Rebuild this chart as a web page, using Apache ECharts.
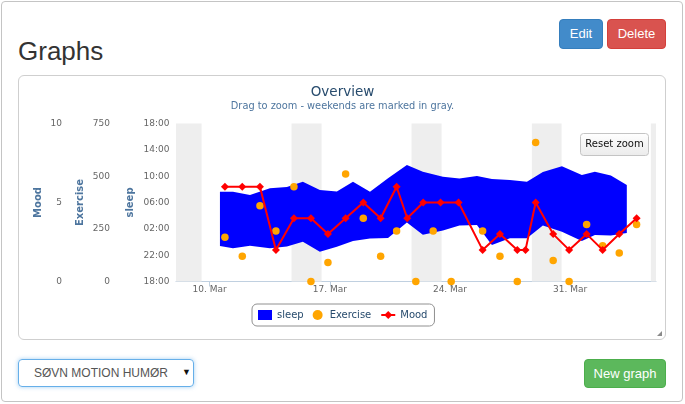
<!DOCTYPE html>
<html><head><meta charset="utf-8">
<script src="https://cdn.jsdelivr.net/npm/echarts@6/dist/echarts.min.js"></script>
<style>
html,body{margin:0;padding:0;background:#fff;width:685px;height:404px;overflow:hidden;font-family:"Liberation Sans",Arial,sans-serif;}
#panel{position:absolute;left:1px;top:1px;width:682px;height:401px;border:1px solid #c4c4c4;border-radius:4px;box-sizing:border-box;}
#head{position:absolute;left:18px;top:38px;margin:0;font-size:26px;line-height:26px;font-weight:normal;color:#333;}
.btn{position:absolute;color:#fff;font-size:13px;text-align:center;border-radius:4px;box-sizing:border-box;}
#edit{left:559px;top:19px;width:44px;height:30px;line-height:28px;background:#428bca;border:1px solid #357ebd;}
#del{left:607px;top:19px;width:59px;height:30px;line-height:28px;background:#d9534f;border:1px solid #d43f3a;}
#box{position:absolute;left:18px;top:75px;width:648px;height:265px;border:1px solid #cfcfcf;border-radius:6px;box-sizing:border-box;}
#grip{position:absolute;left:657px;top:331px;width:0;height:0;border-left:5px solid transparent;border-bottom:5px solid #8a8a8a;}
#sel{position:absolute;left:18px;top:359px;width:176px;height:28px;border:1px solid #66afe9;border-radius:4px;box-shadow:0 0 4px rgba(102,175,233,.6);box-sizing:border-box;font-size:12px;color:#555;}
#sel span{position:absolute;left:15px;top:6px;}
#sel i{position:absolute;left:163px;top:7px;font-style:normal;font-size:9px;color:#111;}
#new{left:584px;top:359px;width:82px;height:29px;line-height:27px;background:#5cb85c;border:1px solid #4cae4c;}
#chart{position:absolute;left:0;top:0;width:685px;height:404px;}
</style></head>
<body>
<div id="panel"></div>
<h2 id="head">Graphs</h2>
<div class="btn" id="edit">Edit</div>
<div class="btn" id="del">Delete</div>
<div id="box"></div>
<div id="grip"></div>
<div id="sel"><span>SØVN MOTION HUMØR</span><i>▼</i></div>
<div class="btn" id="new">New graph</div>
<div id="chart"></div>
<script>
// x values are days of March (10 = 10. Mar 00:00)
const xTickDays = [10, 17, 24, 31];
const xTickLabels = ['10. Mar', '17. Mar', '24. Mar', '31. Mar'];
const sleepTickLabels = ['18:00', '22:00', '02:00', '06:00', '10:00', '14:00', '18:00'];

const weekendStart = [7.75, 14.77, 21.76, 28.77, 35.7];
const weekendEnd = [9.53, 16.52, 23.51, 30.5, 37.5];

// sleep: hours after 18:00 (bedtime = start, wake = end)
const sleepDays = [10.60, 11.36, 12.35, 13.51, 14.50, 15.43, 16.42, 17.41, 18.35, 19.34, 20.39, 21.49, 22.42, 23.59, 24.55, 25.57, 26.44, 27.49, 28.48, 29.41, 30.52, 31.68, 32.44, 33.37, 34.30];
const sleepStart = [5.39, 5.04, 5.44, 5.04, 5.32, 6.05, 4.53, 5.29, 6.15, 6.53, 6.61, 8.96, 7.11, 7.75, 8.51, 8.58, 5.54, 6.56, 6.56, 8.51, 7.56, 6.15, 7.06, 6.99, 7.37];
const sleepEnd = [13.64, 13.64, 13.14, 14.16, 14.35, 15.16, 13.90, 13.67, 15.16, 13.64, 15.68, 17.70, 16.68, 15.92, 15.65, 16.03, 15.57, 15.42, 15.16, 16.63, 17.50, 16.18, 16.68, 16.10, 14.66];

const exerciseDays = [10.89, 11.90, 12.93, 13.86, 14.91, 15.90, 16.89, 17.92, 18.95, 19.96, 20.89, 22.01, 23.02, 24.07, 25.90, 26.91, 27.92, 28.99, 30.01, 30.94, 31.96, 32.89, 33.86, 34.87];
const exerciseValues = [210, 120, 360, 240, 450, 0, 90, 510, 300, 120, 240, 0, 240, 0, 240, 120, 0, 660, 100, 0, 270, 170, 135, 270];

const moodDays = [10.89, 11.90, 12.93, 13.86, 14.91, 15.90, 16.89, 17.92, 18.95, 19.96, 20.89, 21.51, 22.44, 23.45, 24.50, 25.90, 26.91, 27.92, 28.40, 28.99, 30.01, 30.94, 31.96, 32.89, 33.86, 34.87];
const moodValues = [6, 6, 6, 2, 4, 4, 3, 4, 5, 4, 6, 4, 5, 5, 5, 2, 3, 2, 2, 5, 3, 2, 3, 2, 3, 4];

const X_MIN = 8.04, X_MAX = 36;
const FONT = '"DejaVu Sans", Verdana, sans-serif';

const chart = echarts.init(document.getElementById('chart'), null, {renderer: 'canvas'});

function yAxisBase(name, offset, min, max, interval, nameGap, fmt) {
  return {
    type: 'value', position: 'left', offset: offset, min: min, max: max, interval: interval,
    name: name, nameLocation: 'middle', nameRotate: 90, nameGap: nameGap, nameMoveOverlap: false,
    nameTextStyle: {color: '#4d759e', fontWeight: 'bold', fontSize: 10, fontFamily: FONT},
    axisLine: {show: false}, axisTick: {show: false}, splitLine: {show: false},
    axisLabel: {margin: 6.5, color: '#666', fontSize: 9, fontFamily: FONT, formatter: fmt}
  };
}

// area range drawn as one polygon through the axis scales
function renderSleep(params, api) {
  if (params.dataIndex !== 0) return null;
  const pts = [];
  for (let i = 0; i < sleepDays.length; i++) pts.push(api.coord([sleepDays[i], sleepEnd[i]]));
  for (let i = sleepDays.length - 1; i >= 0; i--) pts.push(api.coord([sleepDays[i], sleepStart[i]]));
  return {type: 'polygon', shape: {points: pts}, style: {fill: '#0000ff', stroke: null}, silent: true};
}

const option = {
  animation: false,
  backgroundColor: 'transparent',
  title: {
    text: 'Overview', subtext: 'Drag to zoom - weekends are marked in gray.',
    left: 'center', top: 80, itemGap: 2,
    textStyle: {color: '#274b6d', fontSize: 13.5, fontWeight: 'normal', fontFamily: FONT},
    subtextStyle: {color: '#4d759e', fontSize: 9.8, fontFamily: FONT}
  },
  legend: {
    left: 252, top: 304, padding: [6, 7, 6, 6], itemGap: 9, itemWidth: 14, itemHeight: 10,
    borderColor: '#909090', borderWidth: 1, borderRadius: 5,
    textStyle: {color: '#274b6d', fontSize: 10, fontFamily: FONT},
    data: [{name: 'sleep', icon: 'rect', itemStyle: {color: '#0000ff'}}, {name: 'Exercise', icon: 'circle'}, {name: 'Mood'}]
  },
  grid: {left: 176, top: 123.5, width: 480, height: 158, containLabel: false, outerBoundsMode: 'none'},
  xAxis: {
    type: 'value', min: X_MIN, max: X_MAX,
    axisLine: {lineStyle: {color: '#C0D0E0', width: 1}},
    axisTick: {show: true, customValues: xTickDays, length: 5, lineStyle: {color: '#C0D0E0'}},
    axisLabel: {customValues: xTickDays, color: '#666', fontSize: 9, fontFamily: FONT, margin: 4,
      formatter: function (v) { const i = xTickDays.indexOf(v); return i >= 0 ? xTickLabels[i] : ''; }},
    splitLine: {show: false}
  },
  yAxis: [
    yAxisBase('sleep', 0, 0, 24, 4, 41, function (v) { return sleepTickLabels[Math.round(v / 4)]; }),
    yAxisBase('Exercise', 59.5, 0, 750, 250, 31),
    yAxisBase('Mood', 107.5, 0, 10, 5, 25.5)
  ],
  series: [
    {
      name: 'weekends', type: 'line', yAxisIndex: 0, silent: true, z: 1, data: [],
      markArea: {
        silent: true, itemStyle: {color: '#eeeeee'},
        data: weekendStart.map(function (s, i) {
          return [{xAxis: Math.max(s, X_MIN)}, {xAxis: Math.min(weekendEnd[i], X_MAX)}];
        })
      }
    },
    {
      name: 'sleep', type: 'custom', yAxisIndex: 0, z: 3, silent: true,
      data: sleepDays.map(function (d, i) { return [d, sleepStart[i], sleepEnd[i]]; }),
      encode: {x: 0, y: [1, 2]},
      renderItem: renderSleep,
      itemStyle: {color: '#0000ff'}
    },
    {
      name: 'Exercise', type: 'scatter', yAxisIndex: 1, z: 4, clip: false,
      data: exerciseDays.map(function (d, i) { return [d, exerciseValues[i]]; }),
      symbol: 'circle', symbolSize: 7.5, itemStyle: {color: '#FFA500', opacity: 1}
    },
    {
      name: 'Mood', type: 'line', yAxisIndex: 2, z: 5,
      data: moodDays.map(function (d, i) { return [d, moodValues[i]]; }),
      symbol: 'diamond', symbolSize: 8, showAllSymbol: true,
      lineStyle: {color: '#ff0000', width: 2}, itemStyle: {color: '#ff0000'}
    }
  ],
  graphic: {
    elements: [
      {type: 'rect', z: 100, shape: {x: 580.5, y: 133.5, width: 68, height: 22, r: 3},
        style: {fill: {type: 'linear', x: 0, y: 0, x2: 0, y2: 1, colorStops: [{offset: 0, color: '#ffffff'}, {offset: 1, color: '#ebebeb'}]}, stroke: '#c4c4c4', lineWidth: 1}},
      {type: 'text', z: 101, style: {x: 614.5, y: 144.5, text: 'Reset zoom', align: 'center', verticalAlign: 'middle', fill: '#111', fontSize: 10, fontFamily: 'DejaVu Sans'}}
    ]
  }
};
chart.setOption(option);
</script>
</body></html>
